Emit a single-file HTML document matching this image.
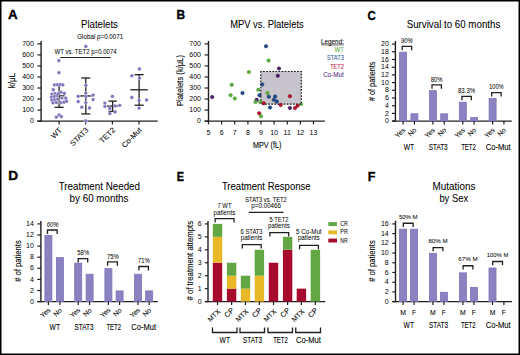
<!DOCTYPE html>
<html><head><meta charset="utf-8"><style>
html,body{margin:0;padding:0;background:#fff;}
svg{display:block;}
text{font-family:"Liberation Sans",sans-serif;}
</style></head><body>
<svg width="520" height="355" viewBox="0 0 520 355">
<rect width="520" height="355" fill="#fff"/>
<rect x="0.75" y="0.75" width="518.5" height="353.5" fill="none" stroke="#000" stroke-width="1.5"/>
<text transform="translate(8.03,19.35) scale(1.059,1)" font-size="12.65" font-weight="bold" fill="#000" stroke="#000" stroke-width="0.35">A</text>
<text transform="translate(176.46,19.35) scale(0.913,1)" font-size="13.08" font-weight="bold" fill="#000" stroke="#000" stroke-width="0.35">B</text>
<text transform="translate(367.38,19.52) scale(0.873,1)" font-size="13.14" font-weight="bold" fill="#000" stroke="#000" stroke-width="0.35">C</text>
<text transform="translate(8.15,180.45) scale(1.093,1)" font-size="12.50" font-weight="bold" fill="#000" stroke="#000" stroke-width="0.35">D</text>
<text transform="translate(176.83,180.65) scale(0.849,1)" font-size="12.79" font-weight="bold" fill="#000" stroke="#000" stroke-width="0.35">E</text>
<text transform="translate(367.82,180.75) scale(0.940,1)" font-size="13.37" font-weight="bold" fill="#000" stroke="#000" stroke-width="0.35">F</text>
<text x="81.00" y="27.80" font-size="10.3" textLength="36.90" lengthAdjust="spacingAndGlyphs" stroke="#231f20" stroke-width="0.06">Platelets</text>
<text x="230.20" y="27.80" font-size="10.3" textLength="73.50" lengthAdjust="spacingAndGlyphs" stroke="#231f20" stroke-width="0.06">MPV vs. Platelets</text>
<text x="406.70" y="27.90" font-size="10.3" textLength="93.60" lengthAdjust="spacingAndGlyphs" stroke="#231f20" stroke-width="0.06">Survival to 60 months</text>
<text x="58.70" y="190.00" font-size="10.3" textLength="81.30" lengthAdjust="spacingAndGlyphs" stroke="#231f20" stroke-width="0.06">Treatment Needed</text>
<text x="69.60" y="201.90" font-size="10.3" textLength="58.90" lengthAdjust="spacingAndGlyphs" stroke="#231f20" stroke-width="0.06">by 60 months</text>
<text x="221.90" y="190.00" font-size="10.3" textLength="88.70" lengthAdjust="spacingAndGlyphs" stroke="#231f20" stroke-width="0.06">Treatment Response</text>
<text x="432.50" y="190.00" font-size="10.3" textLength="42.90" lengthAdjust="spacingAndGlyphs" stroke="#231f20" stroke-width="0.06">Mutations</text>
<text x="439.40" y="201.90" font-size="10.3" textLength="28.70" lengthAdjust="spacingAndGlyphs" stroke="#231f20" stroke-width="0.06">by Sex</text>
<line x1="41.10" y1="41.00" x2="41.10" y2="121.80" stroke="#231f20" stroke-width="1.4"/>
<line x1="37.40" y1="121.10" x2="157.70" y2="121.10" stroke="#231f20" stroke-width="1.4"/>
<line x1="37.40" y1="121.10" x2="41.10" y2="121.10" stroke="#231f20" stroke-width="1.2"/>
<text x="33.90" y="123.20" font-size="7.0" text-anchor="end">0</text>
<line x1="37.40" y1="110.07" x2="41.10" y2="110.07" stroke="#231f20" stroke-width="1.2"/>
<text x="33.90" y="112.17" font-size="7.0" text-anchor="end" textLength="11.70" lengthAdjust="spacingAndGlyphs">100</text>
<line x1="37.40" y1="99.04" x2="41.10" y2="99.04" stroke="#231f20" stroke-width="1.2"/>
<text x="33.90" y="101.14" font-size="7.0" text-anchor="end" textLength="11.70" lengthAdjust="spacingAndGlyphs">200</text>
<line x1="37.40" y1="88.01" x2="41.10" y2="88.01" stroke="#231f20" stroke-width="1.2"/>
<text x="33.90" y="90.11" font-size="7.0" text-anchor="end" textLength="11.70" lengthAdjust="spacingAndGlyphs">300</text>
<line x1="37.40" y1="76.99" x2="41.10" y2="76.99" stroke="#231f20" stroke-width="1.2"/>
<text x="33.90" y="79.09" font-size="7.0" text-anchor="end" textLength="11.70" lengthAdjust="spacingAndGlyphs">400</text>
<line x1="37.40" y1="65.96" x2="41.10" y2="65.96" stroke="#231f20" stroke-width="1.2"/>
<text x="33.90" y="68.06" font-size="7.0" text-anchor="end" textLength="11.70" lengthAdjust="spacingAndGlyphs">500</text>
<line x1="37.40" y1="54.93" x2="41.10" y2="54.93" stroke="#231f20" stroke-width="1.2"/>
<text x="33.90" y="57.03" font-size="7.0" text-anchor="end" textLength="11.70" lengthAdjust="spacingAndGlyphs">600</text>
<line x1="37.40" y1="43.90" x2="41.10" y2="43.90" stroke="#231f20" stroke-width="1.2"/>
<text x="33.90" y="46.00" font-size="7.0" text-anchor="end" textLength="11.70" lengthAdjust="spacingAndGlyphs">700</text>
<text transform="translate(15.20,80.60) rotate(-90)" font-size="8.4" text-anchor="middle" textLength="15.20" lengthAdjust="spacingAndGlyphs" stroke="#231f20" stroke-width="0.12">k/μL</text>
<line x1="59.10" y1="121.10" x2="59.10" y2="124.40" stroke="#231f20" stroke-width="1.2"/>
<text transform="translate(62.40,130.60) rotate(-45)" font-size="7.6" text-anchor="end" stroke="#231f20" stroke-width="0.08">WT</text>
<line x1="85.70" y1="121.10" x2="85.70" y2="124.40" stroke="#231f20" stroke-width="1.2"/>
<text transform="translate(89.00,130.60) rotate(-45)" font-size="7.6" text-anchor="end" stroke="#231f20" stroke-width="0.08">STAT3</text>
<line x1="112.40" y1="121.10" x2="112.40" y2="124.40" stroke="#231f20" stroke-width="1.2"/>
<text transform="translate(115.70,130.60) rotate(-45)" font-size="7.6" text-anchor="end" stroke="#231f20" stroke-width="0.08">TET2</text>
<line x1="139.00" y1="121.10" x2="139.00" y2="124.40" stroke="#231f20" stroke-width="1.2"/>
<text transform="translate(142.30,130.60) rotate(-45)" font-size="7.6" text-anchor="end" stroke="#231f20" stroke-width="0.08">Co-Mut</text>
<text x="77.20" y="38.80" font-size="6.4" textLength="46.10" lengthAdjust="spacingAndGlyphs" stroke="#231f20" stroke-width="0.04">Global p=0.0071</text>
<text x="54.50" y="54.40" font-size="6.4" textLength="62.20" lengthAdjust="spacingAndGlyphs" stroke="#231f20" stroke-width="0.04">WT vs. TET2 p=0.0074</text>
<line x1="60.20" y1="57.50" x2="110.80" y2="57.50" stroke="#231f20" stroke-width="1.2"/>
<line x1="59.10" y1="85.26" x2="59.10" y2="107.31" stroke="#231f20" stroke-width="1.3"/>
<line x1="54.60" y1="85.26" x2="63.60" y2="85.26" stroke="#231f20" stroke-width="1.3"/>
<line x1="54.60" y1="107.31" x2="63.60" y2="107.31" stroke="#231f20" stroke-width="1.3"/>
<line x1="53.60" y1="95.84" x2="64.60" y2="95.84" stroke="#231f20" stroke-width="1.3"/>
<line x1="85.80" y1="77.98" x2="85.80" y2="113.93" stroke="#231f20" stroke-width="1.3"/>
<line x1="81.30" y1="77.98" x2="90.30" y2="77.98" stroke="#231f20" stroke-width="1.3"/>
<line x1="81.30" y1="113.93" x2="90.30" y2="113.93" stroke="#231f20" stroke-width="1.3"/>
<line x1="80.15" y1="95.95" x2="91.45" y2="95.95" stroke="#231f20" stroke-width="1.3"/>
<line x1="112.60" y1="101.14" x2="112.60" y2="111.39" stroke="#231f20" stroke-width="1.3"/>
<line x1="108.40" y1="101.14" x2="116.80" y2="101.14" stroke="#231f20" stroke-width="1.3"/>
<line x1="108.40" y1="111.39" x2="116.80" y2="111.39" stroke="#231f20" stroke-width="1.3"/>
<line x1="107.00" y1="106.10" x2="118.20" y2="106.10" stroke="#231f20" stroke-width="1.3"/>
<line x1="139.10" y1="74.67" x2="139.10" y2="105.22" stroke="#231f20" stroke-width="1.3"/>
<line x1="134.50" y1="74.67" x2="143.70" y2="74.67" stroke="#231f20" stroke-width="1.3"/>
<line x1="134.50" y1="105.22" x2="143.70" y2="105.22" stroke="#231f20" stroke-width="1.3"/>
<line x1="130.35" y1="89.78" x2="147.85" y2="89.78" stroke="#231f20" stroke-width="1.3"/>
<circle cx="58.90" cy="60.70" r="1.85" fill="#7d73ba" stroke="#fff" stroke-width="0.35"/>
<circle cx="58.90" cy="72.60" r="1.85" fill="#7d73ba" stroke="#fff" stroke-width="0.35"/>
<circle cx="54.50" cy="84.80" r="1.85" fill="#7d73ba" stroke="#fff" stroke-width="0.35"/>
<circle cx="57.20" cy="84.60" r="1.85" fill="#7d73ba" stroke="#fff" stroke-width="0.35"/>
<circle cx="60.00" cy="84.60" r="1.85" fill="#7d73ba" stroke="#fff" stroke-width="0.35"/>
<circle cx="62.80" cy="84.80" r="1.85" fill="#7d73ba" stroke="#fff" stroke-width="0.35"/>
<circle cx="53.30" cy="89.70" r="1.85" fill="#7d73ba" stroke="#fff" stroke-width="0.35"/>
<circle cx="60.90" cy="92.20" r="1.85" fill="#7d73ba" stroke="#fff" stroke-width="0.35"/>
<circle cx="64.30" cy="93.30" r="1.85" fill="#7d73ba" stroke="#fff" stroke-width="0.35"/>
<circle cx="52.00" cy="94.00" r="1.85" fill="#7d73ba" stroke="#fff" stroke-width="0.35"/>
<circle cx="55.00" cy="93.50" r="1.85" fill="#7d73ba" stroke="#fff" stroke-width="0.35"/>
<circle cx="51.50" cy="97.00" r="1.85" fill="#7d73ba" stroke="#fff" stroke-width="0.35"/>
<circle cx="54.50" cy="96.50" r="1.85" fill="#7d73ba" stroke="#fff" stroke-width="0.35"/>
<circle cx="57.00" cy="95.50" r="1.85" fill="#7d73ba" stroke="#fff" stroke-width="0.35"/>
<circle cx="51.80" cy="100.00" r="1.85" fill="#7d73ba" stroke="#fff" stroke-width="0.35"/>
<circle cx="54.80" cy="99.80" r="1.85" fill="#7d73ba" stroke="#fff" stroke-width="0.35"/>
<circle cx="57.50" cy="99.00" r="1.85" fill="#7d73ba" stroke="#fff" stroke-width="0.35"/>
<circle cx="53.00" cy="102.80" r="1.85" fill="#7d73ba" stroke="#fff" stroke-width="0.35"/>
<circle cx="56.30" cy="102.50" r="1.85" fill="#7d73ba" stroke="#fff" stroke-width="0.35"/>
<circle cx="58.20" cy="93.80" r="1.85" fill="#7d73ba" stroke="#fff" stroke-width="0.35"/>
<circle cx="62.00" cy="98.00" r="1.85" fill="#7d73ba" stroke="#fff" stroke-width="0.35"/>
<circle cx="65.80" cy="98.20" r="1.85" fill="#7d73ba" stroke="#fff" stroke-width="0.35"/>
<circle cx="60.80" cy="102.60" r="1.85" fill="#7d73ba" stroke="#fff" stroke-width="0.35"/>
<circle cx="64.00" cy="102.20" r="1.85" fill="#7d73ba" stroke="#fff" stroke-width="0.35"/>
<circle cx="66.50" cy="101.20" r="1.85" fill="#7d73ba" stroke="#fff" stroke-width="0.35"/>
<circle cx="56.30" cy="117.10" r="1.85" fill="#7d73ba" stroke="#fff" stroke-width="0.35"/>
<circle cx="59.10" cy="114.90" r="1.85" fill="#7d73ba" stroke="#fff" stroke-width="0.35"/>
<circle cx="61.30" cy="116.60" r="1.85" fill="#7d73ba" stroke="#fff" stroke-width="0.35"/>
<circle cx="85.80" cy="85.30" r="1.85" fill="#7d73ba" stroke="#fff" stroke-width="0.35"/>
<circle cx="85.80" cy="93.10" r="1.85" fill="#7d73ba" stroke="#fff" stroke-width="0.35"/>
<circle cx="78.20" cy="96.30" r="1.85" fill="#7d73ba" stroke="#fff" stroke-width="0.35"/>
<circle cx="85.80" cy="96.30" r="1.85" fill="#7d73ba" stroke="#fff" stroke-width="0.35"/>
<circle cx="93.10" cy="95.10" r="1.85" fill="#7d73ba" stroke="#fff" stroke-width="0.35"/>
<circle cx="78.20" cy="101.60" r="1.85" fill="#7d73ba" stroke="#fff" stroke-width="0.35"/>
<circle cx="93.10" cy="99.60" r="1.85" fill="#7d73ba" stroke="#fff" stroke-width="0.35"/>
<circle cx="85.80" cy="102.50" r="1.85" fill="#7d73ba" stroke="#fff" stroke-width="0.35"/>
<circle cx="81.80" cy="107.20" r="1.85" fill="#7d73ba" stroke="#fff" stroke-width="0.35"/>
<circle cx="89.50" cy="107.90" r="1.85" fill="#7d73ba" stroke="#fff" stroke-width="0.35"/>
<circle cx="85.80" cy="120.80" r="1.85" fill="#7d73ba" stroke="#fff" stroke-width="0.35"/>
<circle cx="85.80" cy="46.30" r="1.85" fill="#7d73ba" stroke="#fff" stroke-width="0.35"/>
<circle cx="112.40" cy="96.30" r="1.85" fill="#7d73ba" stroke="#fff" stroke-width="0.35"/>
<circle cx="104.90" cy="103.00" r="1.85" fill="#7d73ba" stroke="#fff" stroke-width="0.35"/>
<circle cx="104.90" cy="106.40" r="1.85" fill="#7d73ba" stroke="#fff" stroke-width="0.35"/>
<circle cx="109.80" cy="108.40" r="1.85" fill="#7d73ba" stroke="#fff" stroke-width="0.35"/>
<circle cx="115.00" cy="105.80" r="1.85" fill="#7d73ba" stroke="#fff" stroke-width="0.35"/>
<circle cx="119.70" cy="105.30" r="1.85" fill="#7d73ba" stroke="#fff" stroke-width="0.35"/>
<circle cx="109.80" cy="113.50" r="1.85" fill="#7d73ba" stroke="#fff" stroke-width="0.35"/>
<circle cx="115.00" cy="112.00" r="1.85" fill="#7d73ba" stroke="#fff" stroke-width="0.35"/>
<circle cx="139.40" cy="68.90" r="1.85" fill="#7d73ba" stroke="#fff" stroke-width="0.35"/>
<circle cx="131.80" cy="75.80" r="1.85" fill="#7d73ba" stroke="#fff" stroke-width="0.35"/>
<circle cx="139.40" cy="78.10" r="1.85" fill="#7d73ba" stroke="#fff" stroke-width="0.35"/>
<circle cx="131.80" cy="97.40" r="1.85" fill="#7d73ba" stroke="#fff" stroke-width="0.35"/>
<circle cx="139.10" cy="100.50" r="1.85" fill="#7d73ba" stroke="#fff" stroke-width="0.35"/>
<circle cx="146.60" cy="99.90" r="1.85" fill="#7d73ba" stroke="#fff" stroke-width="0.35"/>
<circle cx="139.10" cy="108.10" r="1.85" fill="#7d73ba" stroke="#fff" stroke-width="0.35"/>
<line x1="208.50" y1="41.00" x2="208.50" y2="121.80" stroke="#231f20" stroke-width="1.4"/>
<line x1="204.80" y1="121.10" x2="324.90" y2="121.10" stroke="#231f20" stroke-width="1.4"/>
<line x1="204.60" y1="121.10" x2="208.50" y2="121.10" stroke="#231f20" stroke-width="1.2"/>
<text x="201.00" y="123.20" font-size="7.0" text-anchor="end">0</text>
<line x1="204.60" y1="110.07" x2="208.50" y2="110.07" stroke="#231f20" stroke-width="1.2"/>
<text x="201.00" y="112.17" font-size="7.0" text-anchor="end" textLength="11.70" lengthAdjust="spacingAndGlyphs">100</text>
<line x1="204.60" y1="99.04" x2="208.50" y2="99.04" stroke="#231f20" stroke-width="1.2"/>
<text x="201.00" y="101.14" font-size="7.0" text-anchor="end" textLength="11.70" lengthAdjust="spacingAndGlyphs">200</text>
<line x1="204.60" y1="88.01" x2="208.50" y2="88.01" stroke="#231f20" stroke-width="1.2"/>
<text x="201.00" y="90.11" font-size="7.0" text-anchor="end" textLength="11.70" lengthAdjust="spacingAndGlyphs">300</text>
<line x1="204.60" y1="76.99" x2="208.50" y2="76.99" stroke="#231f20" stroke-width="1.2"/>
<text x="201.00" y="79.09" font-size="7.0" text-anchor="end" textLength="11.70" lengthAdjust="spacingAndGlyphs">400</text>
<line x1="204.60" y1="65.96" x2="208.50" y2="65.96" stroke="#231f20" stroke-width="1.2"/>
<text x="201.00" y="68.06" font-size="7.0" text-anchor="end" textLength="11.70" lengthAdjust="spacingAndGlyphs">500</text>
<line x1="204.60" y1="54.93" x2="208.50" y2="54.93" stroke="#231f20" stroke-width="1.2"/>
<text x="201.00" y="57.03" font-size="7.0" text-anchor="end" textLength="11.70" lengthAdjust="spacingAndGlyphs">600</text>
<line x1="204.60" y1="43.90" x2="208.50" y2="43.90" stroke="#231f20" stroke-width="1.2"/>
<text x="201.00" y="46.00" font-size="7.0" text-anchor="end" textLength="11.70" lengthAdjust="spacingAndGlyphs">700</text>
<line x1="208.50" y1="121.10" x2="208.50" y2="124.40" stroke="#231f20" stroke-width="1.2"/>
<text x="208.50" y="134.60" font-size="7.0" text-anchor="middle">5</text>
<line x1="221.62" y1="121.10" x2="221.62" y2="124.40" stroke="#231f20" stroke-width="1.2"/>
<text x="221.62" y="134.60" font-size="7.0" text-anchor="middle">6</text>
<line x1="234.75" y1="121.10" x2="234.75" y2="124.40" stroke="#231f20" stroke-width="1.2"/>
<text x="234.75" y="134.60" font-size="7.0" text-anchor="middle">7</text>
<line x1="247.88" y1="121.10" x2="247.88" y2="124.40" stroke="#231f20" stroke-width="1.2"/>
<text x="247.88" y="134.60" font-size="7.0" text-anchor="middle">8</text>
<line x1="261.00" y1="121.10" x2="261.00" y2="124.40" stroke="#231f20" stroke-width="1.2"/>
<text x="261.00" y="134.60" font-size="7.0" text-anchor="middle">9</text>
<line x1="274.12" y1="121.10" x2="274.12" y2="124.40" stroke="#231f20" stroke-width="1.2"/>
<text x="274.12" y="134.60" font-size="7.0" text-anchor="middle">10</text>
<line x1="287.25" y1="121.10" x2="287.25" y2="124.40" stroke="#231f20" stroke-width="1.2"/>
<text x="287.25" y="134.60" font-size="7.0" text-anchor="middle">11</text>
<line x1="300.38" y1="121.10" x2="300.38" y2="124.40" stroke="#231f20" stroke-width="1.2"/>
<text x="300.38" y="134.60" font-size="7.0" text-anchor="middle">12</text>
<line x1="313.50" y1="121.10" x2="313.50" y2="124.40" stroke="#231f20" stroke-width="1.2"/>
<text x="313.50" y="134.60" font-size="7.0" text-anchor="middle">13</text>
<text transform="translate(182.80,80.50) rotate(-90)" font-size="9.2" text-anchor="middle" textLength="51.00" lengthAdjust="spacingAndGlyphs" stroke="#231f20" stroke-width="0.12">Platelets (k/μL)</text>
<text x="252.90" y="147.70" font-size="8.4" textLength="28.50" lengthAdjust="spacingAndGlyphs" stroke="#231f20" stroke-width="0.12">MPV (fL)</text>
<rect x="260.80" y="71.50" width="40.50" height="32.60" fill="#c7c5cb"/>
<circle cx="301.20" cy="104.30" r="1.8" fill="#5fad40"/>
<rect x="260.8" y="71.5" width="40.5" height="32.6" fill="none" stroke="#111" stroke-width="1.15" stroke-dasharray="1.7 1.4" stroke-dashoffset="0.85"/>
<circle cx="248.90" cy="72.10" r="1.75" fill="#5fad40" stroke="#3f8c2b" stroke-width="0.5"/>
<circle cx="231.70" cy="84.80" r="1.75" fill="#5fad40" stroke="#3f8c2b" stroke-width="0.5"/>
<circle cx="230.60" cy="95.20" r="1.75" fill="#5fad40" stroke="#3f8c2b" stroke-width="0.5"/>
<circle cx="234.80" cy="98.50" r="1.75" fill="#5fad40" stroke="#3f8c2b" stroke-width="0.5"/>
<circle cx="242.50" cy="93.10" r="1.75" fill="#234a8c" stroke="#132f66" stroke-width="0.5"/>
<circle cx="212.20" cy="97.10" r="1.75" fill="#4d1f6f" stroke="#33104c" stroke-width="0.5"/>
<circle cx="258.30" cy="89.80" r="1.75" fill="#5fad40" stroke="#3f8c2b" stroke-width="0.5"/>
<circle cx="259.50" cy="95.20" r="1.75" fill="#234a8c" stroke="#132f66" stroke-width="0.5"/>
<circle cx="256.70" cy="99.80" r="1.75" fill="#4d1f6f" stroke="#33104c" stroke-width="0.5"/>
<circle cx="255.50" cy="102.00" r="1.75" fill="#5fad40" stroke="#3f8c2b" stroke-width="0.5"/>
<circle cx="260.20" cy="102.10" r="1.75" fill="#5fad40" stroke="#3f8c2b" stroke-width="0.5"/>
<circle cx="263.60" cy="103.20" r="1.75" fill="#b5112f" stroke="#870620" stroke-width="0.5"/>
<circle cx="259.20" cy="113.30" r="1.75" fill="#b5112f" stroke="#870620" stroke-width="0.5"/>
<circle cx="261.00" cy="116.20" r="1.75" fill="#5fad40" stroke="#3f8c2b" stroke-width="0.5"/>
<circle cx="266.00" cy="46.20" r="1.75" fill="#234a8c" stroke="#132f66" stroke-width="0.5"/>
<circle cx="268.60" cy="60.60" r="1.75" fill="#5fad40" stroke="#3f8c2b" stroke-width="0.5"/>
<circle cx="279.00" cy="68.50" r="1.75" fill="#4d1f6f" stroke="#33104c" stroke-width="0.5"/>
<circle cx="277.80" cy="75.80" r="1.75" fill="#4d1f6f" stroke="#33104c" stroke-width="0.5"/>
<circle cx="262.20" cy="84.40" r="1.75" fill="#234a8c" stroke="#132f66" stroke-width="0.5"/>
<circle cx="267.50" cy="93.10" r="1.75" fill="#5fad40" stroke="#3f8c2b" stroke-width="0.5"/>
<circle cx="268.80" cy="96.80" r="1.75" fill="#234a8c" stroke="#132f66" stroke-width="0.5"/>
<circle cx="275.20" cy="96.50" r="1.75" fill="#234a8c" stroke="#132f66" stroke-width="0.5"/>
<circle cx="289.90" cy="96.20" r="1.75" fill="#b5112f" stroke="#870620" stroke-width="0.5"/>
<circle cx="273.80" cy="99.80" r="1.75" fill="#234a8c" stroke="#132f66" stroke-width="0.5"/>
<circle cx="276.80" cy="101.40" r="1.75" fill="#234a8c" stroke="#132f66" stroke-width="0.5"/>
<circle cx="280.60" cy="104.90" r="1.75" fill="#b5112f" stroke="#870620" stroke-width="0.5"/>
<circle cx="270.00" cy="107.50" r="1.75" fill="#234a8c" stroke="#132f66" stroke-width="0.5"/>
<circle cx="289.90" cy="107.90" r="1.75" fill="#4d1f6f" stroke="#33104c" stroke-width="0.5"/>
<circle cx="295.00" cy="108.10" r="1.75" fill="#b5112f" stroke="#870620" stroke-width="0.5"/>
<circle cx="297.50" cy="105.80" r="1.75" fill="#b5112f" stroke="#870620" stroke-width="0.5"/>
<text x="343.90" y="44.10" font-size="6.4" text-anchor="end" textLength="22.80" lengthAdjust="spacingAndGlyphs" stroke="#231f20" stroke-width="0.08">Legend:</text>
<line x1="321.10" y1="44.90" x2="343.90" y2="44.90" stroke="#231f20" stroke-width="0.7"/>
<text x="343.90" y="52.10" font-size="6.3" text-anchor="end" textLength="9.30" lengthAdjust="spacingAndGlyphs" fill="#62ad45" stroke="#62ad45" stroke-width="0.08">WT</text>
<text x="343.90" y="60.40" font-size="6.3" text-anchor="end" textLength="16.90" lengthAdjust="spacingAndGlyphs" fill="#3a5fa0" stroke="#3a5fa0" stroke-width="0.08">STAT3</text>
<text x="343.90" y="69.00" font-size="6.3" text-anchor="end" textLength="13.70" lengthAdjust="spacingAndGlyphs" fill="#c41a42" stroke="#c41a42" stroke-width="0.08">TET2</text>
<text x="343.90" y="77.10" font-size="6.3" text-anchor="end" textLength="20.70" lengthAdjust="spacingAndGlyphs" fill="#5a3386" stroke="#5a3386" stroke-width="0.08">Co-Mut</text>
<line x1="395.40" y1="41.00" x2="395.40" y2="121.80" stroke="#231f20" stroke-width="1.4"/>
<line x1="391.90" y1="121.10" x2="511.80" y2="121.10" stroke="#231f20" stroke-width="1.4"/>
<line x1="391.90" y1="121.10" x2="395.40" y2="121.10" stroke="#231f20" stroke-width="1.2"/>
<text x="388.80" y="123.20" font-size="7.0" text-anchor="end">0</text>
<line x1="391.90" y1="113.40" x2="395.40" y2="113.40" stroke="#231f20" stroke-width="1.2"/>
<text x="388.80" y="115.50" font-size="7.0" text-anchor="end">2</text>
<line x1="391.90" y1="105.70" x2="395.40" y2="105.70" stroke="#231f20" stroke-width="1.2"/>
<text x="388.80" y="107.80" font-size="7.0" text-anchor="end">4</text>
<line x1="391.90" y1="98.00" x2="395.40" y2="98.00" stroke="#231f20" stroke-width="1.2"/>
<text x="388.80" y="100.10" font-size="7.0" text-anchor="end">6</text>
<line x1="391.90" y1="90.30" x2="395.40" y2="90.30" stroke="#231f20" stroke-width="1.2"/>
<text x="388.80" y="92.40" font-size="7.0" text-anchor="end">8</text>
<line x1="391.90" y1="82.60" x2="395.40" y2="82.60" stroke="#231f20" stroke-width="1.2"/>
<text x="388.80" y="84.70" font-size="7.0" text-anchor="end">10</text>
<line x1="391.90" y1="74.90" x2="395.40" y2="74.90" stroke="#231f20" stroke-width="1.2"/>
<text x="388.80" y="77.00" font-size="7.0" text-anchor="end">12</text>
<line x1="391.90" y1="67.20" x2="395.40" y2="67.20" stroke="#231f20" stroke-width="1.2"/>
<text x="388.80" y="69.30" font-size="7.0" text-anchor="end">14</text>
<line x1="391.90" y1="59.50" x2="395.40" y2="59.50" stroke="#231f20" stroke-width="1.2"/>
<text x="388.80" y="61.60" font-size="7.0" text-anchor="end">16</text>
<line x1="391.90" y1="51.80" x2="395.40" y2="51.80" stroke="#231f20" stroke-width="1.2"/>
<text x="388.80" y="53.90" font-size="7.0" text-anchor="end">18</text>
<line x1="391.90" y1="44.10" x2="395.40" y2="44.10" stroke="#231f20" stroke-width="1.2"/>
<text x="388.80" y="46.20" font-size="7.0" text-anchor="end">20</text>
<text transform="translate(375.00,81.25) rotate(-90)" font-size="9.0" text-anchor="middle" textLength="39.50" lengthAdjust="spacingAndGlyphs" stroke="#231f20" stroke-width="0.12"># of patients</text>
<rect x="399.60" y="52.20" width="7.00" height="68.90" fill="#8a82c1" stroke="#7c73b7" stroke-width="0.8"/>
<line x1="403.10" y1="121.10" x2="403.10" y2="124.60" stroke="#231f20" stroke-width="1.2"/>
<rect x="410.90" y="113.80" width="7.00" height="7.30" fill="#8a82c1" stroke="#7c73b7" stroke-width="0.8"/>
<line x1="414.40" y1="121.10" x2="414.40" y2="124.60" stroke="#231f20" stroke-width="1.2"/>
<text transform="translate(405.60,130.60) rotate(-45)" font-size="6.8" text-anchor="end" stroke="#231f20" stroke-width="0.08">Yes</text>
<text transform="translate(416.90,130.60) rotate(-45)" font-size="6.8" text-anchor="end" stroke="#231f20" stroke-width="0.08">No</text>
<rect x="429.40" y="90.70" width="7.00" height="30.40" fill="#8a82c1" stroke="#7c73b7" stroke-width="0.8"/>
<line x1="432.90" y1="121.10" x2="432.90" y2="124.60" stroke="#231f20" stroke-width="1.2"/>
<rect x="440.70" y="113.80" width="7.00" height="7.30" fill="#8a82c1" stroke="#7c73b7" stroke-width="0.8"/>
<line x1="444.20" y1="121.10" x2="444.20" y2="124.60" stroke="#231f20" stroke-width="1.2"/>
<text transform="translate(435.40,130.60) rotate(-45)" font-size="6.8" text-anchor="end" stroke="#231f20" stroke-width="0.08">Yes</text>
<text transform="translate(446.70,130.60) rotate(-45)" font-size="6.8" text-anchor="end" stroke="#231f20" stroke-width="0.08">No</text>
<rect x="459.30" y="102.25" width="7.00" height="18.85" fill="#8a82c1" stroke="#7c73b7" stroke-width="0.8"/>
<line x1="462.80" y1="121.10" x2="462.80" y2="124.60" stroke="#231f20" stroke-width="1.2"/>
<rect x="470.60" y="117.65" width="7.00" height="3.45" fill="#8a82c1" stroke="#7c73b7" stroke-width="0.8"/>
<line x1="474.10" y1="121.10" x2="474.10" y2="124.60" stroke="#231f20" stroke-width="1.2"/>
<text transform="translate(465.30,130.60) rotate(-45)" font-size="6.8" text-anchor="end" stroke="#231f20" stroke-width="0.08">Yes</text>
<text transform="translate(476.60,130.60) rotate(-45)" font-size="6.8" text-anchor="end" stroke="#231f20" stroke-width="0.08">No</text>
<rect x="489.10" y="98.40" width="7.00" height="22.70" fill="#8a82c1" stroke="#7c73b7" stroke-width="0.8"/>
<line x1="492.60" y1="121.10" x2="492.60" y2="124.60" stroke="#231f20" stroke-width="1.2"/>
<line x1="503.90" y1="121.10" x2="503.90" y2="124.60" stroke="#231f20" stroke-width="1.2"/>
<text transform="translate(495.10,130.60) rotate(-45)" font-size="6.8" text-anchor="end" stroke="#231f20" stroke-width="0.08">Yes</text>
<text transform="translate(506.40,130.60) rotate(-45)" font-size="6.8" text-anchor="end" stroke="#231f20" stroke-width="0.08">No</text>
<text x="409.00" y="149.60" font-size="8.8" text-anchor="middle" textLength="10.40" lengthAdjust="spacingAndGlyphs" stroke="#231f20" stroke-width="0.12">WT</text>
<text x="438.20" y="149.60" font-size="8.8" text-anchor="middle" textLength="19.00" lengthAdjust="spacingAndGlyphs" stroke="#231f20" stroke-width="0.12">STAT3</text>
<text x="468.50" y="149.60" font-size="8.8" text-anchor="middle" textLength="14.60" lengthAdjust="spacingAndGlyphs" stroke="#231f20" stroke-width="0.12">TET2</text>
<text x="498.20" y="149.60" font-size="8.8" text-anchor="middle" textLength="24.90" lengthAdjust="spacingAndGlyphs" stroke="#231f20" stroke-width="0.12">Co-Mut</text>
<path d="M402.20,50.30 V46.40 H411.60 V50.30" fill="none" stroke="#231f20" stroke-width="1.3"/>
<text x="406.90" y="43.20" font-size="6.3" text-anchor="middle" textLength="11.80" lengthAdjust="spacingAndGlyphs" font-style="italic" stroke="#231f20" stroke-width="0.04">90%</text>
<path d="M432.00,88.80 V84.90 H441.40 V88.80" fill="none" stroke="#231f20" stroke-width="1.3"/>
<text x="436.70" y="81.70" font-size="6.3" text-anchor="middle" textLength="11.80" lengthAdjust="spacingAndGlyphs" stroke="#231f20" stroke-width="0.04">80%</text>
<path d="M461.90,100.35 V96.45 H471.30 V100.35" fill="none" stroke="#231f20" stroke-width="1.3"/>
<text x="466.60" y="93.25" font-size="6.3" text-anchor="middle" textLength="17.20" lengthAdjust="spacingAndGlyphs" stroke="#231f20" stroke-width="0.04">83.3%</text>
<path d="M491.70,96.50 V92.60 H501.10 V96.50" fill="none" stroke="#231f20" stroke-width="1.3"/>
<text x="496.40" y="89.40" font-size="6.3" text-anchor="middle" textLength="14.50" lengthAdjust="spacingAndGlyphs" stroke="#231f20" stroke-width="0.04">100%</text>
<line x1="40.90" y1="220.90" x2="40.90" y2="302.30" stroke="#231f20" stroke-width="1.4"/>
<line x1="37.40" y1="301.60" x2="157.70" y2="301.60" stroke="#231f20" stroke-width="1.4"/>
<line x1="37.30" y1="301.60" x2="40.90" y2="301.60" stroke="#231f20" stroke-width="1.2"/>
<text x="33.90" y="303.70" font-size="7.0" text-anchor="end">0</text>
<line x1="37.30" y1="290.50" x2="40.90" y2="290.50" stroke="#231f20" stroke-width="1.2"/>
<text x="33.90" y="292.60" font-size="7.0" text-anchor="end">2</text>
<line x1="37.30" y1="279.40" x2="40.90" y2="279.40" stroke="#231f20" stroke-width="1.2"/>
<text x="33.90" y="281.50" font-size="7.0" text-anchor="end">4</text>
<line x1="37.30" y1="268.30" x2="40.90" y2="268.30" stroke="#231f20" stroke-width="1.2"/>
<text x="33.90" y="270.40" font-size="7.0" text-anchor="end">6</text>
<line x1="37.30" y1="257.20" x2="40.90" y2="257.20" stroke="#231f20" stroke-width="1.2"/>
<text x="33.90" y="259.30" font-size="7.0" text-anchor="end">8</text>
<line x1="37.30" y1="246.10" x2="40.90" y2="246.10" stroke="#231f20" stroke-width="1.2"/>
<text x="33.90" y="248.20" font-size="7.0" text-anchor="end">10</text>
<line x1="37.30" y1="235.00" x2="40.90" y2="235.00" stroke="#231f20" stroke-width="1.2"/>
<text x="33.90" y="237.10" font-size="7.0" text-anchor="end">12</text>
<line x1="37.30" y1="223.90" x2="40.90" y2="223.90" stroke="#231f20" stroke-width="1.2"/>
<text x="33.90" y="226.00" font-size="7.0" text-anchor="end">14</text>
<text transform="translate(20.60,261.00) rotate(-90)" font-size="9.0" text-anchor="middle" textLength="41.60" lengthAdjust="spacingAndGlyphs" stroke="#231f20" stroke-width="0.12"># of patients</text>
<rect x="44.90" y="235.40" width="7.00" height="66.20" fill="#8a82c1" stroke="#7c73b7" stroke-width="0.8"/>
<line x1="48.40" y1="301.60" x2="48.40" y2="305.00" stroke="#231f20" stroke-width="1.2"/>
<rect x="56.40" y="257.60" width="7.00" height="44.00" fill="#8a82c1" stroke="#7c73b7" stroke-width="0.8"/>
<line x1="59.90" y1="301.60" x2="59.90" y2="305.00" stroke="#231f20" stroke-width="1.2"/>
<text transform="translate(50.90,310.50) rotate(-45)" font-size="6.8" text-anchor="end" stroke="#231f20" stroke-width="0.08">Yes</text>
<text transform="translate(62.40,310.80) rotate(-45)" font-size="6.8" text-anchor="end" stroke="#231f20" stroke-width="0.08">No</text>
<rect x="74.70" y="263.15" width="7.00" height="38.45" fill="#8a82c1" stroke="#7c73b7" stroke-width="0.8"/>
<line x1="78.20" y1="301.60" x2="78.20" y2="305.00" stroke="#231f20" stroke-width="1.2"/>
<rect x="86.10" y="274.25" width="7.00" height="27.35" fill="#8a82c1" stroke="#7c73b7" stroke-width="0.8"/>
<line x1="89.60" y1="301.60" x2="89.60" y2="305.00" stroke="#231f20" stroke-width="1.2"/>
<text transform="translate(80.70,310.50) rotate(-45)" font-size="6.8" text-anchor="end" stroke="#231f20" stroke-width="0.08">Yes</text>
<text transform="translate(92.10,310.80) rotate(-45)" font-size="6.8" text-anchor="end" stroke="#231f20" stroke-width="0.08">No</text>
<rect x="104.90" y="268.70" width="7.00" height="32.90" fill="#8a82c1" stroke="#7c73b7" stroke-width="0.8"/>
<line x1="108.40" y1="301.60" x2="108.40" y2="305.00" stroke="#231f20" stroke-width="1.2"/>
<rect x="116.10" y="290.90" width="7.00" height="10.70" fill="#8a82c1" stroke="#7c73b7" stroke-width="0.8"/>
<line x1="119.60" y1="301.60" x2="119.60" y2="305.00" stroke="#231f20" stroke-width="1.2"/>
<text transform="translate(110.90,310.50) rotate(-45)" font-size="6.8" text-anchor="end" stroke="#231f20" stroke-width="0.08">Yes</text>
<text transform="translate(122.10,310.80) rotate(-45)" font-size="6.8" text-anchor="end" stroke="#231f20" stroke-width="0.08">No</text>
<rect x="134.50" y="274.25" width="7.00" height="27.35" fill="#8a82c1" stroke="#7c73b7" stroke-width="0.8"/>
<line x1="138.00" y1="301.60" x2="138.00" y2="305.00" stroke="#231f20" stroke-width="1.2"/>
<rect x="145.70" y="290.90" width="7.00" height="10.70" fill="#8a82c1" stroke="#7c73b7" stroke-width="0.8"/>
<line x1="149.20" y1="301.60" x2="149.20" y2="305.00" stroke="#231f20" stroke-width="1.2"/>
<text transform="translate(140.50,310.50) rotate(-45)" font-size="6.8" text-anchor="end" stroke="#231f20" stroke-width="0.08">Yes</text>
<text transform="translate(151.70,310.80) rotate(-45)" font-size="6.8" text-anchor="end" stroke="#231f20" stroke-width="0.08">No</text>
<text x="54.80" y="329.50" font-size="8.8" text-anchor="middle" textLength="10.40" lengthAdjust="spacingAndGlyphs" stroke="#231f20" stroke-width="0.12">WT</text>
<text x="84.10" y="329.50" font-size="8.8" text-anchor="middle" textLength="19.00" lengthAdjust="spacingAndGlyphs" stroke="#231f20" stroke-width="0.12">STAT3</text>
<text x="113.75" y="329.50" font-size="8.8" text-anchor="middle" textLength="14.60" lengthAdjust="spacingAndGlyphs" stroke="#231f20" stroke-width="0.12">TET2</text>
<text x="143.75" y="329.50" font-size="8.8" text-anchor="middle" textLength="24.90" lengthAdjust="spacingAndGlyphs" stroke="#231f20" stroke-width="0.12">Co-Mut</text>
<path d="M47.50,233.90 V230.00 H57.10 V233.90" fill="none" stroke="#231f20" stroke-width="1.3"/>
<text x="52.60" y="226.80" font-size="6.3" text-anchor="middle" textLength="11.80" lengthAdjust="spacingAndGlyphs" font-style="italic" stroke="#231f20" stroke-width="0.04">60%</text>
<path d="M78.20,262.50 V258.60 H87.70 V262.50" fill="none" stroke="#231f20" stroke-width="1.3"/>
<text x="83.25" y="255.40" font-size="6.3" text-anchor="middle" textLength="11.80" lengthAdjust="spacingAndGlyphs" stroke="#231f20" stroke-width="0.04">58%</text>
<path d="M107.60,265.70 V261.80 H117.40 V265.70" fill="none" stroke="#231f20" stroke-width="1.3"/>
<text x="112.80" y="258.60" font-size="6.3" text-anchor="middle" textLength="11.80" lengthAdjust="spacingAndGlyphs" stroke="#231f20" stroke-width="0.04">75%</text>
<path d="M138.90,270.40 V266.50 H148.40 V270.40" fill="none" stroke="#231f20" stroke-width="1.3"/>
<text x="143.95" y="263.30" font-size="6.3" text-anchor="middle" textLength="11.80" lengthAdjust="spacingAndGlyphs" stroke="#231f20" stroke-width="0.04">71%</text>
<line x1="208.00" y1="221.10" x2="208.00" y2="302.30" stroke="#231f20" stroke-width="1.4"/>
<line x1="204.80" y1="301.60" x2="325.20" y2="301.60" stroke="#231f20" stroke-width="1.4"/>
<line x1="204.80" y1="301.60" x2="208.00" y2="301.60" stroke="#231f20" stroke-width="1.2"/>
<text x="199.60" y="303.70" font-size="7.0" text-anchor="middle">0</text>
<line x1="204.80" y1="288.65" x2="208.00" y2="288.65" stroke="#231f20" stroke-width="1.2"/>
<text x="199.60" y="290.75" font-size="7.0" text-anchor="middle">1</text>
<line x1="204.80" y1="275.70" x2="208.00" y2="275.70" stroke="#231f20" stroke-width="1.2"/>
<text x="199.60" y="277.80" font-size="7.0" text-anchor="middle">2</text>
<line x1="204.80" y1="262.75" x2="208.00" y2="262.75" stroke="#231f20" stroke-width="1.2"/>
<text x="199.60" y="264.85" font-size="7.0" text-anchor="middle">3</text>
<line x1="204.80" y1="249.80" x2="208.00" y2="249.80" stroke="#231f20" stroke-width="1.2"/>
<text x="199.60" y="251.90" font-size="7.0" text-anchor="middle">4</text>
<line x1="204.80" y1="236.85" x2="208.00" y2="236.85" stroke="#231f20" stroke-width="1.2"/>
<text x="199.60" y="238.95" font-size="7.0" text-anchor="middle">5</text>
<line x1="204.80" y1="223.90" x2="208.00" y2="223.90" stroke="#231f20" stroke-width="1.2"/>
<text x="199.60" y="226.00" font-size="7.0" text-anchor="middle">6</text>
<text transform="translate(192.60,260.70) rotate(-90)" font-size="8.6" text-anchor="middle" textLength="79.60" lengthAdjust="spacingAndGlyphs" stroke="#231f20" stroke-width="0.12"># of treatment attempts</text>
<rect x="212.80" y="262.75" width="9.40" height="38.85" fill="#a60a2d"/>
<rect x="212.80" y="236.85" width="9.40" height="25.90" fill="#e9b826"/>
<rect x="212.80" y="223.90" width="9.40" height="12.95" fill="#62a744"/>
<rect x="226.90" y="288.65" width="9.40" height="12.95" fill="#a60a2d"/>
<rect x="226.90" y="275.70" width="9.40" height="12.95" fill="#e9b826"/>
<rect x="226.90" y="262.75" width="9.40" height="12.95" fill="#62a744"/>
<line x1="217.50" y1="301.60" x2="217.50" y2="305.00" stroke="#231f20" stroke-width="1.2"/>
<line x1="231.60" y1="301.60" x2="231.60" y2="305.00" stroke="#231f20" stroke-width="1.2"/>
<text transform="translate(220.80,312.00) rotate(-45)" font-size="6.9" text-anchor="end" stroke="#231f20" stroke-width="0.08">MTX</text>
<text transform="translate(234.40,310.80) rotate(-45)" font-size="7.3" text-anchor="end" stroke="#231f20" stroke-width="0.12">CP</text>
<rect x="240.80" y="288.65" width="9.40" height="12.95" fill="#e9b826"/>
<rect x="240.80" y="275.70" width="9.40" height="12.95" fill="#62a744"/>
<rect x="254.70" y="275.70" width="9.40" height="25.90" fill="#e9b826"/>
<rect x="254.70" y="249.80" width="9.40" height="25.90" fill="#62a744"/>
<line x1="245.50" y1="301.60" x2="245.50" y2="305.00" stroke="#231f20" stroke-width="1.2"/>
<line x1="259.40" y1="301.60" x2="259.40" y2="305.00" stroke="#231f20" stroke-width="1.2"/>
<text transform="translate(248.80,312.00) rotate(-45)" font-size="6.9" text-anchor="end" stroke="#231f20" stroke-width="0.08">MTX</text>
<text transform="translate(262.20,310.80) rotate(-45)" font-size="7.3" text-anchor="end" stroke="#231f20" stroke-width="0.12">CP</text>
<rect x="268.80" y="262.75" width="9.40" height="38.85" fill="#a60a2d"/>
<rect x="282.90" y="249.80" width="9.40" height="51.80" fill="#a60a2d"/>
<rect x="282.90" y="236.85" width="9.40" height="12.95" fill="#62a744"/>
<line x1="273.50" y1="301.60" x2="273.50" y2="305.00" stroke="#231f20" stroke-width="1.2"/>
<line x1="287.60" y1="301.60" x2="287.60" y2="305.00" stroke="#231f20" stroke-width="1.2"/>
<text transform="translate(276.80,312.00) rotate(-45)" font-size="6.9" text-anchor="end" stroke="#231f20" stroke-width="0.08">MTX</text>
<text transform="translate(290.40,310.80) rotate(-45)" font-size="7.3" text-anchor="end" stroke="#231f20" stroke-width="0.12">CP</text>
<rect x="296.70" y="288.65" width="9.40" height="12.95" fill="#a60a2d"/>
<rect x="310.70" y="249.80" width="9.40" height="51.80" fill="#62a744"/>
<line x1="301.40" y1="301.60" x2="301.40" y2="305.00" stroke="#231f20" stroke-width="1.2"/>
<line x1="315.40" y1="301.60" x2="315.40" y2="305.00" stroke="#231f20" stroke-width="1.2"/>
<text transform="translate(304.70,312.00) rotate(-45)" font-size="6.9" text-anchor="end" stroke="#231f20" stroke-width="0.08">MTX</text>
<text transform="translate(318.20,310.80) rotate(-45)" font-size="7.3" text-anchor="end" stroke="#231f20" stroke-width="0.12">CP</text>
<path d="M212.50,327.5 V332.5 H237.00 V327.5" fill="none" stroke="#231f20" stroke-width="1.3"/>
<text x="224.80" y="343.00" font-size="8.8" text-anchor="middle" textLength="10.40" lengthAdjust="spacingAndGlyphs" stroke="#231f20" stroke-width="0.12">WT</text>
<path d="M240.00,327.5 V332.5 H264.50 V327.5" fill="none" stroke="#231f20" stroke-width="1.3"/>
<text x="252.50" y="343.00" font-size="8.8" text-anchor="middle" textLength="19.00" lengthAdjust="spacingAndGlyphs" stroke="#231f20" stroke-width="0.12">STAT3</text>
<path d="M268.00,327.5 V332.5 H292.50 V327.5" fill="none" stroke="#231f20" stroke-width="1.3"/>
<text x="280.50" y="343.00" font-size="8.8" text-anchor="middle" textLength="14.60" lengthAdjust="spacingAndGlyphs" stroke="#231f20" stroke-width="0.12">TET2</text>
<path d="M295.75,327.5 V332.5 H320.50 V327.5" fill="none" stroke="#231f20" stroke-width="1.3"/>
<text x="308.50" y="343.00" font-size="8.8" text-anchor="middle" textLength="24.90" lengthAdjust="spacingAndGlyphs" stroke="#231f20" stroke-width="0.12">Co-Mut</text>
<path d="M215.10,222.60 V218.70 H234.00 V222.60" fill="none" stroke="#231f20" stroke-width="1.3"/>
<text x="224.50" y="208.10" font-size="6.5" text-anchor="middle" textLength="14.10" lengthAdjust="spacingAndGlyphs" stroke="#231f20" stroke-width="0.02">7 WT</text>
<text x="224.50" y="214.80" font-size="6.5" text-anchor="middle" textLength="21.80" lengthAdjust="spacingAndGlyphs" stroke="#231f20" stroke-width="0.02">patients</text>
<path d="M242.30,248.50 V244.60 H261.20 V248.50" fill="none" stroke="#231f20" stroke-width="1.3"/>
<text x="251.60" y="233.70" font-size="6.5" text-anchor="middle" textLength="22.00" lengthAdjust="spacingAndGlyphs" stroke="#231f20" stroke-width="0.02">6 STAT3</text>
<text x="251.60" y="240.40" font-size="6.5" text-anchor="middle" textLength="21.80" lengthAdjust="spacingAndGlyphs" stroke="#231f20" stroke-width="0.02">patients</text>
<path d="M269.90,236.50 V232.60 H288.70 V236.50" fill="none" stroke="#231f20" stroke-width="1.3"/>
<text x="279.00" y="221.50" font-size="6.5" text-anchor="middle" textLength="18.80" lengthAdjust="spacingAndGlyphs" stroke="#231f20" stroke-width="0.02">5 TET2</text>
<text x="279.00" y="228.20" font-size="6.5" text-anchor="middle" textLength="21.80" lengthAdjust="spacingAndGlyphs" stroke="#231f20" stroke-width="0.02">patients</text>
<path d="M299.60,249.20 V245.30 H318.40 V249.20" fill="none" stroke="#231f20" stroke-width="1.3"/>
<text x="308.80" y="233.70" font-size="6.5" text-anchor="middle" textLength="25.60" lengthAdjust="spacingAndGlyphs" stroke="#231f20" stroke-width="0.02">5 Co-Mut</text>
<text x="308.80" y="240.40" font-size="6.5" text-anchor="middle" textLength="21.80" lengthAdjust="spacingAndGlyphs" stroke="#231f20" stroke-width="0.02">patients</text>
<text x="266.00" y="201.70" font-size="6.4" text-anchor="middle" textLength="41.40" lengthAdjust="spacingAndGlyphs" stroke="#231f20" stroke-width="0.04">STAT3 vs. TET2</text>
<text x="266.20" y="208.30" font-size="6.4" text-anchor="middle" textLength="29.70" lengthAdjust="spacingAndGlyphs" stroke="#231f20" stroke-width="0.04">p=0.00466</text>
<line x1="248.70" y1="212.40" x2="283.50" y2="212.40" stroke="#231f20" stroke-width="1.3"/>
<rect x="328.30" y="222.10" width="8.70" height="3.90" fill="#62a744"/>
<text x="340.30" y="226.10" font-size="6.6" textLength="7.50" lengthAdjust="spacingAndGlyphs" stroke="#231f20" stroke-width="0.04">CR</text>
<rect x="328.30" y="230.40" width="8.70" height="3.90" fill="#e9b826"/>
<text x="340.30" y="234.40" font-size="6.6" textLength="7.50" lengthAdjust="spacingAndGlyphs" stroke="#231f20" stroke-width="0.04">PR</text>
<rect x="328.30" y="238.60" width="8.70" height="3.90" fill="#a60a2d"/>
<text x="340.30" y="242.60" font-size="6.6" textLength="7.50" lengthAdjust="spacingAndGlyphs" stroke="#231f20" stroke-width="0.04">NR</text>
<line x1="395.50" y1="220.70" x2="395.50" y2="302.30" stroke="#231f20" stroke-width="1.4"/>
<line x1="392.30" y1="301.60" x2="512.00" y2="301.60" stroke="#231f20" stroke-width="1.4"/>
<line x1="392.30" y1="301.60" x2="395.50" y2="301.60" stroke="#231f20" stroke-width="1.2"/>
<text x="388.70" y="303.70" font-size="7.0" text-anchor="end">0</text>
<line x1="392.30" y1="291.89" x2="395.50" y2="291.89" stroke="#231f20" stroke-width="1.2"/>
<text x="388.70" y="293.99" font-size="7.0" text-anchor="end">2</text>
<line x1="392.30" y1="282.18" x2="395.50" y2="282.18" stroke="#231f20" stroke-width="1.2"/>
<text x="388.70" y="284.28" font-size="7.0" text-anchor="end">4</text>
<line x1="392.30" y1="272.46" x2="395.50" y2="272.46" stroke="#231f20" stroke-width="1.2"/>
<text x="388.70" y="274.56" font-size="7.0" text-anchor="end">6</text>
<line x1="392.30" y1="262.75" x2="395.50" y2="262.75" stroke="#231f20" stroke-width="1.2"/>
<text x="388.70" y="264.85" font-size="7.0" text-anchor="end">8</text>
<line x1="392.30" y1="253.04" x2="395.50" y2="253.04" stroke="#231f20" stroke-width="1.2"/>
<text x="388.70" y="255.14" font-size="7.0" text-anchor="end">10</text>
<line x1="392.30" y1="243.33" x2="395.50" y2="243.33" stroke="#231f20" stroke-width="1.2"/>
<text x="388.70" y="245.43" font-size="7.0" text-anchor="end">12</text>
<line x1="392.30" y1="233.61" x2="395.50" y2="233.61" stroke="#231f20" stroke-width="1.2"/>
<text x="388.70" y="235.71" font-size="7.0" text-anchor="end">14</text>
<line x1="392.30" y1="223.90" x2="395.50" y2="223.90" stroke="#231f20" stroke-width="1.2"/>
<text x="388.70" y="226.00" font-size="7.0" text-anchor="end">16</text>
<text transform="translate(375.40,261.00) rotate(-90)" font-size="9.0" text-anchor="middle" textLength="41.60" lengthAdjust="spacingAndGlyphs" stroke="#231f20" stroke-width="0.12"># of patients</text>
<rect x="399.60" y="229.16" width="7.00" height="72.44" fill="#8a82c1" stroke="#7c73b7" stroke-width="0.8"/>
<line x1="403.10" y1="301.60" x2="403.10" y2="305.00" stroke="#231f20" stroke-width="1.2"/>
<rect x="410.60" y="229.16" width="7.00" height="72.44" fill="#8a82c1" stroke="#7c73b7" stroke-width="0.8"/>
<line x1="414.10" y1="301.60" x2="414.10" y2="305.00" stroke="#231f20" stroke-width="1.2"/>
<text x="403.10" y="314.60" font-size="6.8" text-anchor="middle" stroke="#231f20" stroke-width="0.08">M</text>
<text x="414.10" y="314.60" font-size="6.8" text-anchor="middle" stroke="#231f20" stroke-width="0.08">F</text>
<rect x="429.40" y="253.44" width="7.00" height="48.16" fill="#8a82c1" stroke="#7c73b7" stroke-width="0.8"/>
<line x1="432.90" y1="301.60" x2="432.90" y2="305.00" stroke="#231f20" stroke-width="1.2"/>
<rect x="440.40" y="292.29" width="7.00" height="9.31" fill="#8a82c1" stroke="#7c73b7" stroke-width="0.8"/>
<line x1="443.90" y1="301.60" x2="443.90" y2="305.00" stroke="#231f20" stroke-width="1.2"/>
<text x="432.90" y="314.60" font-size="6.8" text-anchor="middle" stroke="#231f20" stroke-width="0.08">M</text>
<text x="443.90" y="314.60" font-size="6.8" text-anchor="middle" stroke="#231f20" stroke-width="0.08">F</text>
<rect x="459.40" y="272.86" width="7.00" height="28.74" fill="#8a82c1" stroke="#7c73b7" stroke-width="0.8"/>
<line x1="462.90" y1="301.60" x2="462.90" y2="305.00" stroke="#231f20" stroke-width="1.2"/>
<rect x="470.40" y="287.43" width="7.00" height="14.17" fill="#8a82c1" stroke="#7c73b7" stroke-width="0.8"/>
<line x1="473.90" y1="301.60" x2="473.90" y2="305.00" stroke="#231f20" stroke-width="1.2"/>
<text x="462.90" y="314.60" font-size="6.8" text-anchor="middle" stroke="#231f20" stroke-width="0.08">M</text>
<text x="473.90" y="314.60" font-size="6.8" text-anchor="middle" stroke="#231f20" stroke-width="0.08">F</text>
<rect x="489.00" y="268.01" width="7.00" height="33.59" fill="#8a82c1" stroke="#7c73b7" stroke-width="0.8"/>
<line x1="492.50" y1="301.60" x2="492.50" y2="305.00" stroke="#231f20" stroke-width="1.2"/>
<line x1="503.90" y1="301.60" x2="503.90" y2="305.00" stroke="#231f20" stroke-width="1.2"/>
<text x="492.50" y="314.60" font-size="6.8" text-anchor="middle" stroke="#231f20" stroke-width="0.08">M</text>
<text x="503.90" y="314.60" font-size="6.8" text-anchor="middle" stroke="#231f20" stroke-width="0.08">F</text>
<text x="408.80" y="327.60" font-size="8.8" text-anchor="middle" textLength="10.40" lengthAdjust="spacingAndGlyphs" stroke="#231f20" stroke-width="0.12">WT</text>
<text x="438.60" y="327.60" font-size="8.8" text-anchor="middle" textLength="19.00" lengthAdjust="spacingAndGlyphs" stroke="#231f20" stroke-width="0.12">STAT3</text>
<text x="468.20" y="327.60" font-size="8.8" text-anchor="middle" textLength="14.60" lengthAdjust="spacingAndGlyphs" stroke="#231f20" stroke-width="0.12">TET2</text>
<text x="498.20" y="327.60" font-size="8.8" text-anchor="middle" textLength="24.90" lengthAdjust="spacingAndGlyphs" stroke="#231f20" stroke-width="0.12">Co-Mut</text>
<path d="M403.30,227.06 V223.26 H413.10 V227.06" fill="none" stroke="#231f20" stroke-width="1.3"/>
<text x="408.20" y="218.86" font-size="6.2" text-anchor="middle" textLength="18.60" lengthAdjust="spacingAndGlyphs" stroke="#231f20" stroke-width="0.04">50% M</text>
<path d="M433.10,251.34 V247.54 H442.90 V251.34" fill="none" stroke="#231f20" stroke-width="1.3"/>
<text x="438.00" y="243.14" font-size="6.2" text-anchor="middle" textLength="19.20" lengthAdjust="spacingAndGlyphs" stroke="#231f20" stroke-width="0.04">80% M</text>
<path d="M463.10,269.56 V265.76 H472.90 V269.56" fill="none" stroke="#231f20" stroke-width="1.3"/>
<text x="468.00" y="261.36" font-size="6.2" text-anchor="middle" textLength="19.30" lengthAdjust="spacingAndGlyphs" stroke="#231f20" stroke-width="0.04">67% M</text>
<path d="M492.70,265.31 V261.51 H502.50 V265.31" fill="none" stroke="#231f20" stroke-width="1.3"/>
<text x="497.60" y="257.11" font-size="6.2" text-anchor="middle" textLength="21.60" lengthAdjust="spacingAndGlyphs" stroke="#231f20" stroke-width="0.04">100% M</text>
</svg>
</body></html>
